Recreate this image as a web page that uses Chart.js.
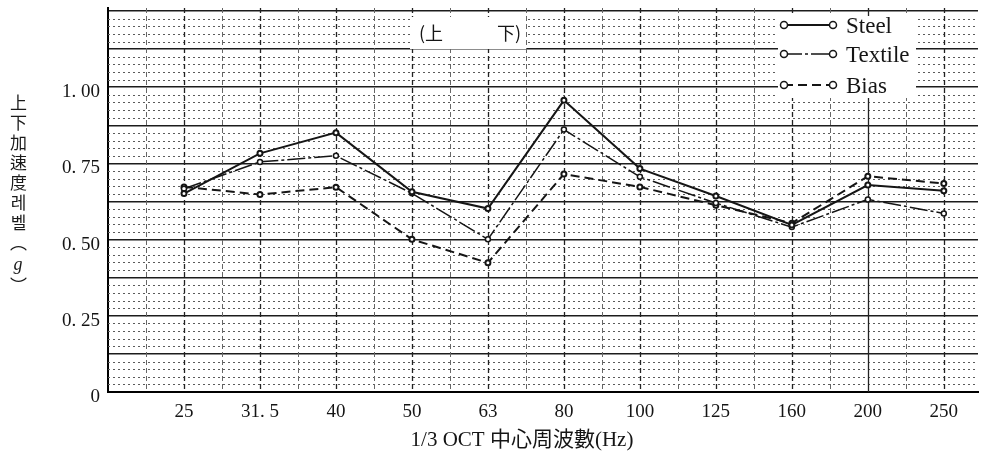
<!DOCTYPE html>
<html>
<head>
<meta charset="utf-8">
<script src="https://cdn.jsdelivr.net/npm/chart.js@4.4.1/dist/chart.umd.min.js"></script>
<style>
  html, body { margin: 0; padding: 0; background: #fff; }
  #wrap { position: relative; width: 984px; height: 460px; }
  #ytitle {
    position: absolute; left: 6px; top: 94px;
    writing-mode: vertical-rl; text-orientation: upright;
    font: 17px "Noto Sans CJK KR", "Noto Sans CJK JP", sans-serif;
    letter-spacing: 3px; color: #1a1a1a;
  }
  #ytitle i { font-family: "Liberation Serif", serif; font-size: 18px; }
</style>
</head>
<body>
<div id="wrap">
  <canvas id="octChart"></canvas>
  <div id="ytitle">上下加速度레벨（<i>g</i>）</div>
</div>
<script>
// 1/3 octave centre frequencies (Hz)
const freqLabels = ['25', '31. 5', '40', '50', '63', '80', '100', '125', '160', '200', '250'];

// vertical acceleration level (g)
const steel   = [0.651, 0.783, 0.851, 0.657, 0.602, 0.957, 0.733, 0.643, 0.548, 0.679, 0.660];
const textile = [0.667, 0.755, 0.775, 0.652, 0.501, 0.861, 0.706, 0.620, 0.541, 0.632, 0.586];
const bias    = [0.673, 0.648, 0.672, 0.501, 0.424, 0.715, 0.673, 0.613, 0.554, 0.708, 0.684];

const seriesNames = ['Steel', 'Textile', 'Bias'];

// y tick labels (only these carry text)
const yTickValues = [0, 0.25, 0.5, 0.75, 1.0];
const yTickLabels = ['0', '0. 25', '0. 50', '0. 75', '1. 00'];

const plotTitle = '(上　　　下)';
const xTitle = '1/3 OCT 中心周波數(Hz)';

const INK = '#151515';
const SERIF = '"Liberation Serif", "Noto Sans CJK JP", serif';

function toPoints(arr) {
    return arr.map((v, i) => ({ x: i + 1, y: v }));
}

// graph paper: fine dotted rows and dashed columns
const graphPaper = {
    id: 'graphPaper',
    beforeDatasetsDraw(chart) {
        const { ctx, chartArea: a, scales: { x, y } } = chart;
        ctx.save();
        ctx.beginPath();
        ctx.rect(a.left, a.top, a.right - a.left, a.bottom - a.top);
        ctx.clip();

        ctx.strokeStyle = '#5a5a5a';
        ctx.lineWidth = 1;
        ctx.setLineDash([2, 3]);
        for (let i = 1; i * 0.025 < y.max; i++) {
            if (i % 5 === 0) continue;
            const py = Math.round(y.getPixelForValue(i * 0.025)) + 0.5;
            ctx.beginPath();
            ctx.moveTo(a.left, py);
            ctx.lineTo(a.right, py);
            ctx.stroke();
        }

        for (let k = 0.5; k < x.max; k += 0.5) {
            const px = Math.round(x.getPixelForValue(k)) + 0.5;
            const whole = k % 1 === 0;
            ctx.strokeStyle = whole ? '#222' : '#666';
            ctx.lineWidth = whole ? 1.3 : 1;
            ctx.setLineDash(k === 10 ? [] : [5, 3]);
            ctx.beginPath();
            ctx.moveTo(px, a.top);
            ctx.lineTo(px, a.bottom);
            ctx.stroke();
        }
        ctx.restore();
    },
    afterDatasetsDraw(chart) {
        const { ctx } = chart;
        ctx.save();

        // boxed title inside the plot
        ctx.fillStyle = '#fff';
        ctx.fillRect(410, 17, 116, 32);
        ctx.fillStyle = INK;
        ctx.font = '18px "Noto Sans CJK JP", sans-serif';
        ctx.textAlign = 'center';
        ctx.textBaseline = 'middle';
        ctx.fillText(plotTitle, 470, 33);

        // legend box
        ctx.fillStyle = '#fff';
        ctx.fillRect(778, 16, 138, 82);
        const rows = [25, 54, 85];
        chart.data.datasets.forEach((ds, i) => {
            const ly = rows[i];
            ctx.strokeStyle = ds.borderColor;
            ctx.lineWidth = ds.borderWidth;
            ctx.setLineDash(ds.borderDash || []);
            ctx.beginPath();
            ctx.moveTo(784, ly);
            ctx.lineTo(833, ly);
            ctx.stroke();
            ctx.setLineDash([]);
            ctx.lineWidth = 1.5;
            [784, 833].forEach(cx => {
                ctx.beginPath();
                ctx.arc(cx, ly, 3.5, 0, Math.PI * 2);
                ctx.fillStyle = '#fff';
                ctx.fill();
                ctx.stroke();
            });
            ctx.fillStyle = INK;
            ctx.font = '23px ' + SERIF;
            ctx.textAlign = 'left';
            ctx.fillText(ds.label, 846, ly + 2);
        });

        // x axis title
        ctx.fillStyle = INK;
        ctx.font = '21px ' + SERIF;
        ctx.textAlign = 'center';
        ctx.textBaseline = 'middle';
        ctx.fillText(xTitle, 522, 440);
        ctx.restore();
    }
};

const ctx = document.getElementById('octChart').getContext('2d');

const chart = new Chart(ctx, {
    type: 'line',
    data: {
        datasets: [
            {
                label: seriesNames[0],
                data: toPoints(steel),
                borderColor: INK,
                borderWidth: 2,
                borderDash: []
            },
            {
                label: seriesNames[1],
                data: toPoints(textile),
                borderColor: INK,
                borderWidth: 1.5,
                borderDash: [18, 3, 3, 3]
            },
            {
                label: seriesNames[2],
                data: toPoints(bias),
                borderColor: INK,
                borderWidth: 2,
                borderDash: [9, 5]
            }
        ]
    },
    options: {
        responsive: true,
        maintainAspectRatio: false,
        devicePixelRatio: 1,
        animation: false,
        layout: { padding: { top: 8, left: 0, right: 0, bottom: 0 } },
        elements: {
            line: { tension: 0, fill: false },
            point: { radius: 2.5, backgroundColor: '#fff', borderColor: INK, borderWidth: 1.4 }
        },
        plugins: {
            legend: { display: false },
            tooltip: { enabled: false }
        },
        scales: {
            x: {
                type: 'linear',
                min: 0,
                max: 11.45,
                afterBuildTicks: (s) => {
                    s.ticks = freqLabels.map((_, i) => ({ value: i + 1 }));
                },
                afterFit: (s) => {
                    s.height = 68;
                    s.paddingLeft = 0;
                    s.paddingRight = 0;
                },
                ticks: {
                    autoSkip: false,
                    maxRotation: 0,
                    padding: 9,
                    color: INK,
                    font: { family: SERIF, size: 19 },
                    callback: (v) => freqLabels[Math.round(v) - 1] ?? ''
                },
                grid: { display: false, drawTicks: false },
                border: { display: true, color: '#000', width: 2 }
            },
            y: {
                min: 0,
                max: 1.26,
                afterBuildTicks: (s) => {
                    const t = [];
                    for (let i = 0; i * 0.125 <= 1.25; i++) t.push({ value: i * 0.125 });
                    s.ticks = t;
                },
                afterFit: (s) => {
                    s.width = 108;
                    s.paddingTop = 0;
                    s.paddingBottom = 0;
                },
                ticks: {
                    autoSkip: false,
                    padding: 8,
                    labelOffset: 5,
                    color: INK,
                    font: { family: SERIF, size: 19 },
                    callback: (v) => {
                        const k = yTickValues.indexOf(v);
                        return k >= 0 ? yTickLabels[k] : '';
                    }
                },
                grid: {
                    drawTicks: false,
                    color: (c) => (c.tick && c.tick.value === 0 ? 'rgba(0,0,0,0)' : '#1c1c1c'),
                    lineWidth: 1.5
                },
                border: { display: true, color: '#000', width: 2 }
            }
        }
    },
    plugins: [graphPaper]
});
</script>
</body>
</html>
